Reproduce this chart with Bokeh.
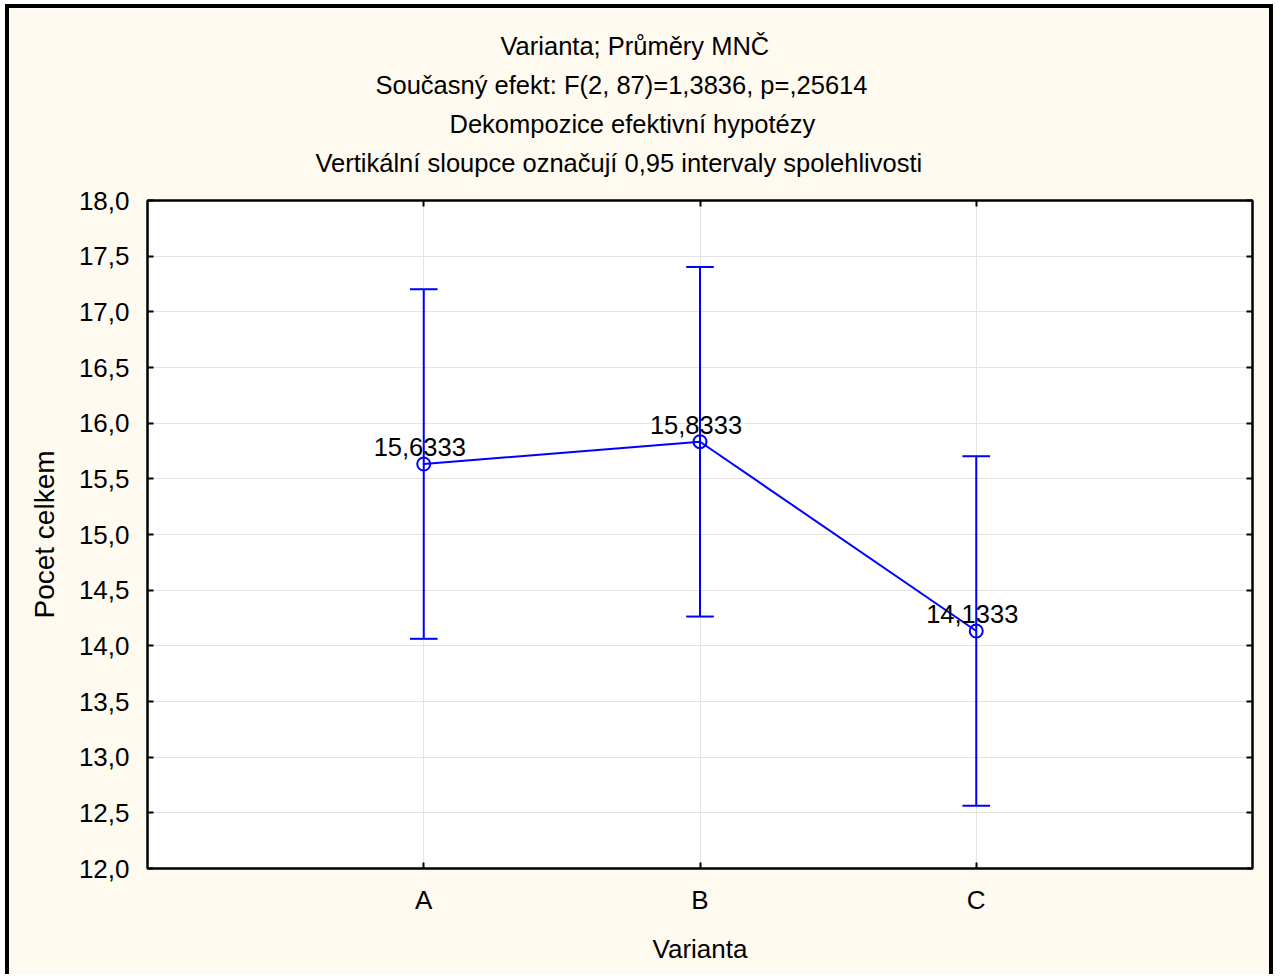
import math
from bokeh.plotting import figure
from bokeh.models import (Range1d, FixedTicker, LinearAxis, Title, ColumnDataSource)
from bokeh.core.properties import value
from bokeh.embed import file_html
from bokeh.resources import INLINE

# ---- data ----
categories = ["A", "B", "C"]
cat_pos = [1, 2, 3]
means = [15.6333, 15.8333, 14.1333]
ci_low = [14.063, 14.263, 12.563]
ci_high = [17.203, 17.403, 15.703]
mean_labels = ["15,6333", "15,8333", "14,1333"]
y_ticks = [12.0, 12.5, 13.0, 13.5, 14.0, 14.5, 15.0, 15.5, 16.0, 16.5, 17.0, 17.5, 18.0]
y_tick_labels = ["12,0", "12,5", "13,0", "13,5", "14,0", "14,5", "15,0", "15,5",
                 "16,0", "16,5", "17,0", "17,5", "18,0"]
title_lines = ["Varianta; Průměry MNČ",
               "Současný efekt: F(2, 87)=1,3836, p=,25614",
               "Dekompozice efektivní hypotézy",
               "Vertikální sloupce označují 0,95 intervaly spolehlivosti"]
x_label = "Varianta"
y_label = "Pocet celkem"

FONT = "Liberation Sans"
BLUE = "#0000FF"
CREAM = "#FFFAF0"

W, H = 1268, 970
p = figure(width=W, height=H, output_backend="svg", toolbar_location=None,
           x_range=Range1d(0, 4), y_range=Range1d(12, 18),
           min_border_left=138, min_border_right=25, min_border_top=192, min_border_bottom=110,
           background_fill_color="white", border_fill_color=CREAM,
           styles={"margin-left": "5px", "margin-top": "4px",
                   "border-left": "4px solid black", "border-top": "4px solid black",
                   "border-right": "4px solid black"})
p.outline_line_color = "black"
p.outline_line_width = 2

# axes
for ax in [p.xaxis[0], p.yaxis[0]]:
    ax.axis_line_color = "black"
    ax.axis_line_width = 2
    ax.major_tick_in = 6
    ax.major_tick_out = 0
    ax.major_tick_line_width = 2
    ax.minor_tick_line_color = None
    ax.major_label_text_font = FONT
    ax.major_label_text_font_size = "26px"
    ax.major_label_text_color = "black"
    ax.axis_label_text_font = FONT
    ax.axis_label_text_font_style = "normal"
    ax.axis_label_text_color = "black"

p.xaxis.ticker = FixedTicker(ticks=cat_pos)
p.xaxis.major_label_overrides = {c: l for c, l in zip(cat_pos, categories)}
p.xaxis.major_label_standoff = 16
p.xaxis.axis_label = x_label
p.xaxis.axis_label_text_font_size = "26px"
p.xaxis.axis_label_standoff = 16
p.yaxis.ticker = FixedTicker(ticks=y_ticks)
p.yaxis.major_label_overrides = {t: l for t, l in zip(y_ticks, y_tick_labels)}
p.yaxis.major_label_standoff = 18
p.yaxis.axis_label = y_label
p.yaxis.axis_label_text_font_size = "28px"
p.yaxis.axis_label_standoff = 16

ra = LinearAxis(ticker=FixedTicker(ticks=y_ticks), major_label_overrides={t: "" for t in y_ticks})
ta = LinearAxis(ticker=FixedTicker(ticks=cat_pos), major_label_overrides={c: "" for c in cat_pos})
for ax in [ra, ta]:
    ax.axis_line_color = "black"
    ax.axis_line_width = 2
    ax.major_tick_in = 6
    ax.major_tick_out = 0
    ax.major_tick_line_width = 2
    ax.minor_tick_line_color = None
    ax.major_label_standoff = 0
    ax.major_label_text_font_size = "1px"
p.add_layout(ra, "right")
p.add_layout(ta, "above")

# spacer between frame and the title block
p.add_layout(Title(text=" ", text_font_size="1px", standoff=15.5), "above")

# title lines: added nearest-first, left-aligned with per-line offsets from frame left
title_offsets = [353, 228, 302, 168]
for line, off in zip(reversed(title_lines), reversed(title_offsets)):
    p.add_layout(Title(text=line, align="left", offset=off, text_font=FONT,
                       text_font_size="25.5px", text_font_style="normal",
                       text_color="black", standoff=9), "above")

# grid
p.xgrid.ticker = FixedTicker(ticks=cat_pos)
p.ygrid.ticker = FixedTicker(ticks=y_ticks)
p.xgrid.grid_line_color = "#E4E4E4"
p.ygrid.grid_line_color = "#E4E4E4"

src = ColumnDataSource(dict(x=cat_pos, m=means, lo=ci_low, hi=ci_high, lab=mean_labels))
cap = 0.05
src.data["xl"] = [c - cap for c in cat_pos]
src.data["xr"] = [c + cap for c in cat_pos]
lift = 17 / (668 / 6.0)
src.data["ly"] = [m + lift for m in means]
p.segment(x0="x", y0="lo", x1="x", y1="hi", source=src, line_color=BLUE, line_width=2)
p.segment(x0="xl", y0="hi", x1="xr", y1="hi", source=src, line_color=BLUE, line_width=2)
p.segment(x0="xl", y0="lo", x1="xr", y1="lo", source=src, line_color=BLUE, line_width=2)
p.line(x="x", y="m", source=src, line_color=BLUE, line_width=2)
p.scatter(x="x", y="m", source=src, marker="circle", size=13, fill_color=None,
          line_color=BLUE, line_width=2)
p.text(x="x", y="ly", text="lab", source=src, text_font=value(FONT), text_font_size="25.5px",
       text_color="black", text_align="center", text_baseline="alphabetic", x_offset=-4)

open("out.html", "w").write(file_html(p, INLINE))
